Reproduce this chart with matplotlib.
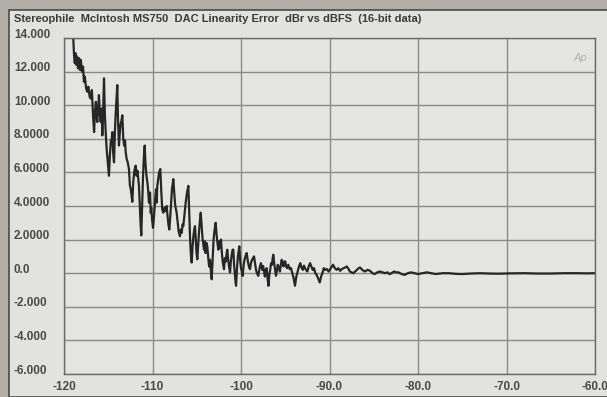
import matplotlib
matplotlib.use('Agg')
import matplotlib.pyplot as plt
import matplotlib.transforms as mtransforms
from matplotlib.patches import Rectangle

# DAC linearity error (dBFS, dBr)
level_dbfs = [
    -119.0, -118.87, -118.78, -118.7, -118.6, -118.53, -118.42, -118.3, -118.2, -118.1,
    -117.97, -117.85, -117.75, -117.65, -117.5, -117.37, -117.25, -117.1, -116.98, -116.85,
    -116.72, -116.6, -116.5, -116.4, -116.3, -116.24, -116.15, -116.05, -115.95, -115.85,
    -115.75, -115.67, -115.58, -115.48, -115.38, -115.28, -115.18, -115.05, -114.92, -114.82,
    -114.7, -114.6, -114.54, -114.45, -114.35, -114.25, -114.15, -114.05, -113.98, -113.9,
    -113.79, -113.7, -113.6, -113.5, -113.41, -113.3, -113.2, -113.1, -113.03, -112.92,
    -112.8, -112.66, -112.55, -112.45, -112.36, -112.28, -112.18, -112.05, -111.9, -111.8,
    -111.7, -111.6, -111.53, -111.43, -111.35, -111.27, -111.18, -111.08, -110.98, -110.88,
    -110.8, -110.7, -110.59, -110.5, -110.4, -110.28, -110.2, -110.14, -110.05, -109.94,
    -109.8, -109.7, -109.6, -109.53, -109.46, -109.35, -109.25, -109.12, -109.0, -108.9,
    -108.78, -108.65, -108.52, -108.4, -108.3, -108.2, -108.1, -108.0, -107.9, -107.8,
    -107.65, -107.55, -107.45, -107.35, -107.27, -107.15, -107.05, -106.9, -106.8, -106.7,
    -106.6, -106.52, -106.4, -106.25, -106.1, -105.95, -105.85, -105.75, -105.65, -105.57,
    -105.48, -105.38, -105.28, -105.2, -105.1, -105.02, -104.94, -104.85, -104.75, -104.65,
    -104.55, -104.45, -104.35, -104.26, -104.18, -104.08, -104.0, -103.9, -103.81, -103.7,
    -103.6, -103.5, -103.4, -103.31, -103.2, -103.1, -102.98, -102.86, -102.76, -102.66,
    -102.56, -102.46, -102.36, -102.26, -102.16, -102.05, -101.92, -101.82, -101.72, -101.62,
    -101.55, -101.45, -101.35, -101.24, -101.15, -101.05, -100.95, -100.87, -100.78, -100.7,
    -100.62, -100.56, -100.45, -100.35, -100.27, -100.19, -100.1, -100.0, -99.9, -99.81,
    -99.7, -99.6, -99.5, -99.36, -99.25, -99.15, -99.05, -98.98, -98.88, -98.75,
    -98.63, -98.53, -98.42, -98.3, -98.2, -98.05, -97.9, -97.75, -97.6, -97.5,
    -97.4, -97.3, -97.2, -97.1, -97.0, -96.9, -96.8, -96.7, -96.6, -96.5,
    -96.42, -96.35, -96.25, -96.15, -96.05, -95.95, -95.85, -95.7, -95.6, -95.5,
    -95.4, -95.3, -95.2, -95.1, -95.0, -94.9, -94.8, -94.65, -94.5, -94.35,
    -94.2, -94.05, -93.9, -93.75, -93.6, -93.45, -93.3, -93.15, -93.0, -92.9,
    -92.8, -92.65, -92.5, -92.35, -92.2, -92.05, -91.9, -91.75, -91.6, -91.45,
    -91.3, -91.1, -90.95, -90.8, -90.65, -90.5, -90.3, -90.1, -89.85, -89.6,
    -89.4, -89.2, -89.0, -88.8, -88.6, -88.4, -88.2, -88.05, -87.85, -87.7,
    -87.5, -87.3, -87.1, -86.9, -86.7, -86.55, -86.3, -86.0, -85.7, -85.4,
    -85.15, -84.9, -84.6, -84.3, -84.0, -83.7, -83.45, -83.2, -82.95, -82.7,
    -82.45, -82.2, -81.85, -81.5, -81.15, -80.8, -80.4, -80.0, -79.5, -79.0,
    -78.5, -78.0, -77.2, -76.5, -75.7, -75.0, -74.0, -73.0, -72.0, -71.0,
    -69.5, -68.0, -66.5, -65.0, -63.5, -62.0, -61.0, -60.0,
]
error_dbr = [
    14.6, 13.0, 12.5, 13.1, 12.4, 12.9, 12.2, 12.8, 12.1, 12.7,
    12.0, 12.3, 11.4, 11.7, 11.0, 10.8, 11.1, 10.5, 10.4, 10.9,
    9.4, 8.4, 9.6, 10.2, 9.3, 9.0, 9.7, 10.6, 9.5, 9.0,
    9.8, 8.2, 9.6, 11.6, 9.4, 8.3, 7.4, 6.6, 5.8, 7.0,
    7.9, 8.0, 8.4, 7.2, 6.6, 8.4, 9.6, 10.5, 11.2, 9.2,
    7.6, 8.3, 8.9, 9.1, 9.4, 8.0, 7.6, 7.9, 7.2, 6.8,
    6.6, 6.2, 5.2, 5.0, 4.6, 4.25, 5.4, 6.1, 6.4, 5.8,
    6.1, 5.6, 5.2, 4.0, 3.0, 2.25, 3.9, 5.6, 6.9, 7.6,
    6.6, 5.9, 5.45, 5.0, 4.2, 4.8, 3.6, 3.9, 3.2, 2.7,
    3.6, 4.4, 5.0, 4.2, 5.2, 5.6, 6.0, 6.2, 4.8, 3.8,
    3.6, 3.9, 3.7, 4.0, 3.4, 2.9, 2.6, 3.3, 4.2, 5.0,
    5.6, 4.8, 4.1, 3.8, 3.6, 3.0, 2.5, 2.2, 2.6, 2.4,
    2.9, 2.8, 3.4, 4.2, 4.8, 5.2, 3.6, 2.0, 1.0, 0.63,
    1.5, 2.2, 2.6, 2.8, 1.9, 1.2, 0.83, 1.6, 2.4, 3.1,
    3.6, 2.8, 2.1, 1.7, 1.4, 1.9, 1.2, 1.8, 1.6, 0.9,
    0.4, 0.8, 0.1, -0.36, 0.9, 2.0, 2.6, 3.0, 2.3, 1.8,
    1.4, 1.9, 1.5, 2.0, 1.2, 0.6, 0.24, 0.9, 0.7, 1.2,
    1.4, 0.8, 0.4, 0.04, 0.7, 1.1, 1.4, 1.4, 0.5, 0.0,
    -0.5, -0.75, 0.3, 1.0, 1.3, 1.6, 0.8, 0.3, 0.1, -0.16,
    0.5, 0.8, 1.0, 1.2, 0.8, 0.5, 0.3, 0.24, 0.6, 0.8,
    0.9, 1.0, 0.6, 0.2, 0.0, -0.16, 0.3, 0.6, 0.2, 0.43,
    0.1, -0.2, 0.2, 0.3, -0.3, -0.75, -0.1, 0.2, 0.6, 0.5,
    0.9, 1.1, 0.6, 0.2, -0.15, 0.1, 0.5, 0.3, 0.1, 0.5,
    0.8, 0.6, 0.4, 0.7, 0.7, 0.4, 0.3, 0.5, 0.24, 0.3,
    0.0, -0.3, -0.75, -0.2, 0.1, 0.4, 0.6, 0.3, 0.2, 0.45,
    0.34, 0.2, 0.1, 0.4, 0.6, 0.4, 0.2, 0.3, 0.0, -0.1,
    -0.3, -0.55, -0.2, 0.0, 0.3, 0.2, 0.25, 0.1, 0.3, 0.5,
    0.3, 0.2, 0.3, 0.14, 0.25, 0.3, 0.35, 0.4, 0.25, 0.1,
    0.05, 0.0, 0.1, 0.2, 0.3, 0.34, 0.2, 0.1, 0.2, 0.14,
    0.0, -0.05, 0.05, 0.1, 0.05, 0.0, 0.05, -0.06, 0.02, 0.1,
    0.05, 0.05, -0.05, -0.1, 0.0, 0.05, 0.0, -0.05, 0.0, 0.05,
    0.0, -0.05, 0.0, 0.0, -0.04, -0.05, -0.02, 0.0, -0.02, -0.03,
    -0.01, 0.0, -0.02, -0.02, 0.0, 0.0, -0.01, 0.0,
]

x_ticks = [-120, -110, -100, -90, -80, -70, -60]
x_labels = ['-120', '-110', '-100', '-90.0', '-80.0', '-70.0', '-60.0']
y_ticks = [14, 12, 10, 8, 6, 4, 2, 0, -2, -4, -6]
y_labels = ['14.000', '12.000', '10.000', '8.0000', '6.0000', '4.0000',
            '2.0000', '0.0', '-2.000', '-4.000', '-6.000']

title = 'Stereophile  McIntosh MS750  DAC Linearity Error  dBr vs dBFS  (16-bit data)'

W, H = 607, 397
fig = plt.figure(figsize=(W / 100, H / 100), dpi=100)
fig.patch.set_facecolor('#b4afa6')

# scanned panel, kept behind the axes
fig.patches.append(Rectangle((9 / W, 0), 1, 1 - 10 / H, transform=fig.transFigure,
                             facecolor='#e2e2df', edgecolor='#4a4a48', linewidth=1.2,
                             zorder=-10))

ax = fig.add_axes([64 / W, 1 - 374 / H, (595 - 64) / W, (374 - 38) / H])
ax.set_facecolor('#e4e4e2')
ax.plot(level_dbfs, error_dbr, color='#262626', linewidth=1.6)

ax.set_xlim(-120, -60)
ax.set_ylim(-6, 14)
ax.set_xticks(x_ticks)
ax.set_xticklabels(x_labels)
ax.set_yticks(y_ticks)
ax.set_yticklabels(y_labels)
ax.grid(True, color='#8a8a88', linewidth=1.0)
ax.set_axisbelow(True)
for s in ax.spines.values():
    s.set_color('#6a6a68')
    s.set_linewidth(1.0)

ax.tick_params(length=0, labelsize=8.5, labelcolor='#4a4a4a')
ax.tick_params(axis='y', pad=36)
ax.tick_params(axis='x', pad=5)
shift_up = mtransforms.ScaledTranslation(0, 2.5 / 72, fig.dpi_scale_trans)
for lab in ax.get_yticklabels():
    lab.set_horizontalalignment('left')
    lab.set_verticalalignment('center')
    lab.set_transform(lab.get_transform() + shift_up)
    lab.set_fontweight('bold')
    lab.set_family('Liberation Sans')
for lab in ax.get_xticklabels():
    lab.set_fontweight('bold')
    lab.set_family('Liberation Sans')

ax.text(0.985, 0.955, 'Ap', transform=ax.transAxes, ha='right', va='top',
        fontsize=8, style='italic', color='#b0b0ae', family='Liberation Sans')

fig.text(14 / W, 1 - 19 / H, title, ha='left', va='center', fontsize=8.0,
         fontweight='bold', color='#3a3a3a', family='Liberation Sans')

fig.savefig('out.png', dpi=100, facecolor=fig.get_facecolor())
